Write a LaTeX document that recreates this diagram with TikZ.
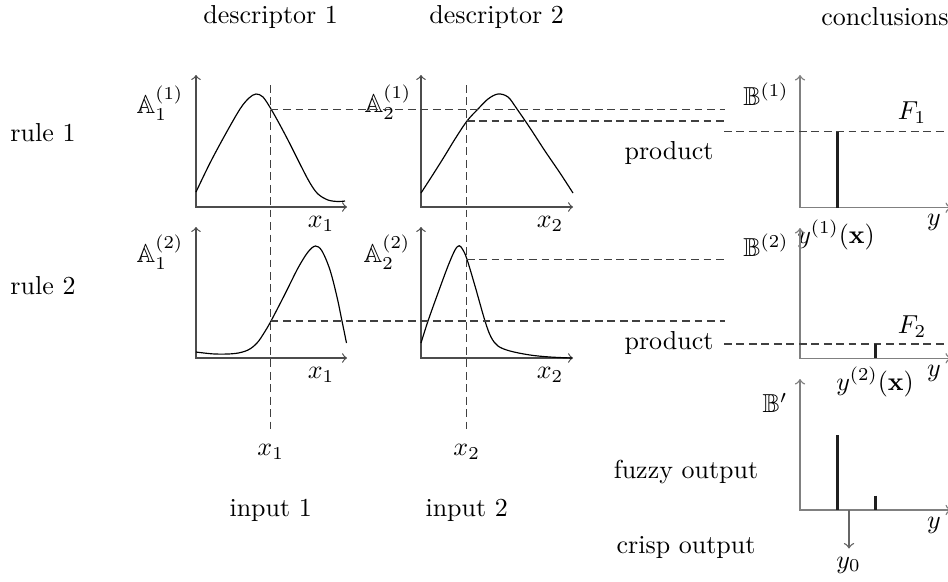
\documentclass[tikz,border=0pt]{standalone}
\usepackage{amssymb}
\begin{document}
\begin{tikzpicture}[x=0.385pt,y=-0.385pt,
  ax/.style={<->,black!70,line width=0.45pt},
  bx/.style={<->,black!50,line width=0.55pt},
  curve/.style={black,line width=0.45pt},
  guide/.style={black!75,line width=0.45pt,dash pattern=on 3pt off 1.8pt},
  bar/.style={black!88,line width=1.25pt},
  lbl/.style={inner sep=0pt}]
\useasboundingbox (0,0) rectangle (948,581);

% column / row titles
\node[lbl] (d1) at (270.7,17) {descriptor 1};
\node[lbl] (d2) at (496.7,17) {descriptor 2};
\node[lbl] (cc) at (885,17) {conclusions};
\node[lbl] (r1) at (43,133) {rule 1};
\node[lbl] (r2) at (43,286) {rule 2};

% ---- rule 1, descriptor 1
\coordinate (a11t) at (196,75); \coordinate (a11e) at (347,207);
\draw[ax] (a11t) |- (a11e);
\draw[curve] plot[smooth,tension=0.55] coordinates {(196,192) (210,163) (225,135) (240,109) (249,98) (256,94) (263,97) (271,109) (280,125) (290,144) (300,164) (310,183) (318,194) (328,200) (338,201.5) (345,201)};
\node[lbl] (A11) at (160,103) {$\mathbb{A}_1^{(1)}$};
\node[lbl] (x11) at (321,224) {$x_1$};

% ---- rule 1, descriptor 2
\coordinate (a12t) at (421,75); \coordinate (a12e) at (573,207);
\draw[ax] (a12t) |- (a12e);
\draw[curve] plot[smooth,tension=0.55] coordinates {(421,193) (432,176) (444,157) (455,139) (467,121) (478,109) (488,99) (498,94) (508,97) (517,109) (530,128) (545,151) (560,173) (573,193)};
\node[lbl] (A12) at (388,102) {$\mathbb{A}_2^{(1)}$};
\node[lbl] (x12) at (550,224) {$x_2$};

% ---- rule 2, descriptor 1
\coordinate (a21t) at (196,227); \coordinate (a21e) at (347,358);
\draw[ax] (a21t) |- (a21e);
\draw[curve] plot[smooth,tension=0.55] coordinates {(196,352) (215,354) (235,353.5) (248,350) (257,343) (264,333) (271,321) (285,294) (298,268) (308,252) (315.5,246) (322,251) (330,270) (337,297) (342,321) (346.5,343)};
\node[lbl] (A21) at (160,252) {$\mathbb{A}_1^{(2)}$};
\node[lbl] (x21) at (321,375) {$x_1$};

% ---- rule 2, descriptor 2
\coordinate (a22t) at (421,227); \coordinate (a22e) at (573,358);
\draw[ax] (a22t) |- (a22e);
\draw[curve] plot[smooth,tension=0.55] coordinates {(421,343) (428,321) (438,293) (448,266) (455,250) (459.3,245.7) (463,250) (467,259.3) (475,286) (485,321) (491,337) (498,346) (510,351) (530,355) (550,357) (572,358)};
\node[lbl] (A22) at (387,252) {$\mathbb{A}_2^{(2)}$};
\node[lbl] (x22) at (550,375) {$x_2$};

% ---- input lines
\node[lbl] (in1) at (270.7,452) {$x_1$};
\node[lbl] (in2) at (466.7,452) {$x_2$};
\node[lbl] (inp1) at (270.7,510) {input 1};
\node[lbl] (inp2) at (466.7,510) {input 2};
\coordinate (v1t) at (270.7,85); \coordinate (v1b) at (270.7,433);
\coordinate (v2t) at (466.7,85); \coordinate (v2b) at (466.7,433);
\draw[guide] (v1t) -- (v1b);
\draw[guide] (v2t) -- (v2b);

% ---- membership level guides
\coordinate (h1a) at (270.7,109.3); \coordinate (h1b) at (725,109.3);
\coordinate (h2a) at (466.7,121); \coordinate (h2b) at (725,121);
\coordinate (h3a) at (270.7,321); \coordinate (h3b) at (725,321);
\coordinate (h4a) at (466.7,259.3); \coordinate (h4b) at (725,259.3);
\draw[guide] (h1a) -- (h1b);
\draw[guide] (h2a) -- (h2b);
\draw[guide] (h3a) -- (h3b);
\draw[guide] (h4a) -- (h4b);

% ---- conclusions rule 1
\coordinate (b1t) at (800,75); \coordinate (b1e) at (951,207.7);
\draw[bx] (b1t) |- (b1e);
\node[lbl] (B1) at (766,94) {$\mathbb{B}^{(1)}$};
\node[lbl] (F1) at (912,113) {$F_1$};
\node[lbl] (p1) at (669,153) {product};
\coordinate (f1a) at (724,131.7); \coordinate (f1b) at (950,131.7);
\draw[guide] (f1a) -- (f1b);
\coordinate (c1t) at (837.3,131.7); \coordinate (c1b) at (837.3,207.7);
\draw[bar] (c1t) -- (c1b);
\node[lbl] (y1) at (934,222) {$y$};
\node[lbl] (yx1) at (836,235) {$y^{(1)}(\mathbf{x})$};

% ---- conclusions rule 2
\coordinate (b2t) at (800,228); \coordinate (b2e) at (951,358.3);
\draw[bx] (b2t) |- (b2e);
\node[lbl] (B2) at (766,245) {$\mathbb{B}^{(2)}$};
\node[lbl] (F2) at (912,327) {$F_2$};
\node[lbl] (p2) at (669,343.3) {product};
\coordinate (f2a) at (724,344); \coordinate (f2b) at (950,344);
\draw[guide] (f2a) -- (f2b);
\coordinate (c2t) at (875.7,344); \coordinate (c2b) at (875.7,358.3);
\draw[bar] (c2t) -- (c2b);
\node[lbl] (y2) at (934,373) {$y$};
\node[lbl] (yx2) at (875,382) {$y^{(2)}(\mathbf{x})$};

% ---- aggregated output
\coordinate (b3t) at (800,379); \coordinate (b3e) at (951,510);
\draw[bx] (b3t) |- (b3e);
\node[lbl] (B3) at (775,403) {$\mathbb{B}'$};
\coordinate (c3t) at (837.3,435); \coordinate (c3b) at (837.3,510);
\draw[bar] (c3t) -- (c3b);
\coordinate (c4t) at (875.7,495.7); \coordinate (c4b) at (875.7,510);
\draw[bar] (c4t) -- (c4b);
\node[lbl] (y3) at (934,525) {$y$};
\coordinate (y0a) at (849,510); \coordinate (y0b) at (849,548.5);
\draw[->,black!60,line width=0.55pt] (y0a) -- (y0b);
\node[lbl] (y0) at (848.5,565) {$y_0$};
\node[lbl] (fo) at (686,472) {fuzzy output};
\node[lbl] (co) at (686,547) {crisp output};
\end{tikzpicture}
\end{document}
